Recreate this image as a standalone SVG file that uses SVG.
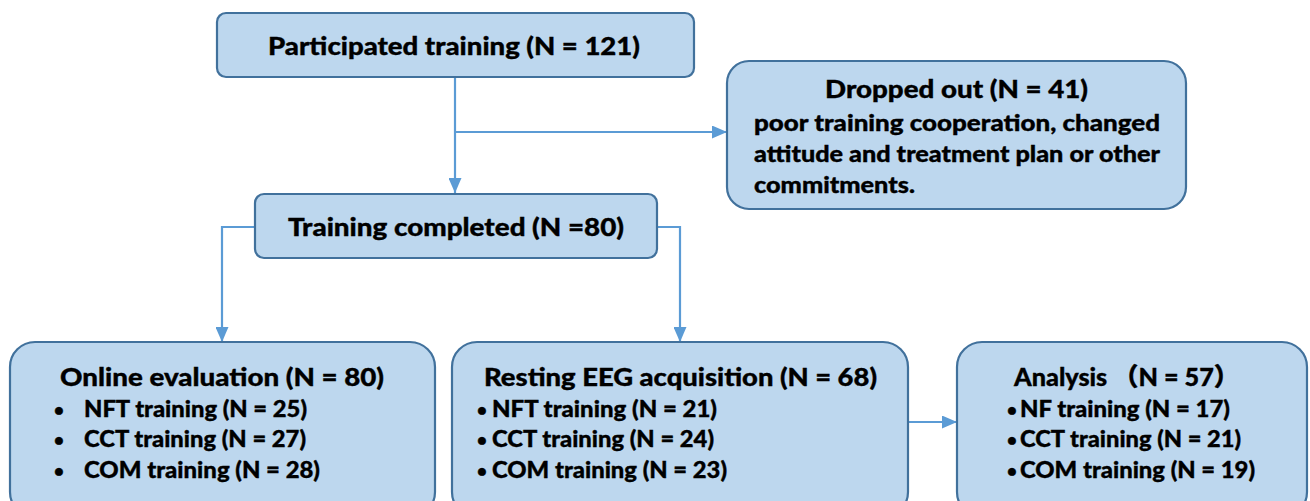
<svg xmlns="http://www.w3.org/2000/svg" width="1310" height="501" viewBox="0 0 1310 501">
<defs>
<style>
.box{fill:#BDD7EE;stroke:#41719C;stroke-width:2.2}
.t{font-family:Lato,"Open Sans","Liberation Sans","Noto Sans CJK SC",sans-serif;font-weight:900;fill:#000;stroke:#000;stroke-width:0.35}
.h{font-size:25px}
.s{font-size:22px}
.b{font-size:17px}
.c{stroke:#5B9BD5;stroke-width:2.2;fill:none}
</style>
<marker id="ah" viewBox="0 0 15 13" refX="15" refY="6.5" markerWidth="15" markerHeight="13" markerUnits="userSpaceOnUse" orient="auto">
<path d="M0,0 L15,6.5 L0,13 Z" fill="#5B9BD5"/>
</marker>
</defs>
<rect width="1310" height="501" fill="#fff"/>
<g id="connectors">
<path class="c" d="M455,77 V193" marker-end="url(#ah)"/>
<path class="c" d="M455,132 H727" marker-end="url(#ah)"/>
<path class="c" d="M255,227 H222 V342" marker-end="url(#ah)"/>
<path class="c" d="M657,227 H680 V342" marker-end="url(#ah)"/>
<path class="c" d="M909,422 H957" marker-end="url(#ah)"/>
</g>
<g id="participated">
<rect class="box" x="217" y="13" width="477" height="64" rx="9"/>
<text class="t h" x="268" y="55" textLength="372" lengthAdjust="spacingAndGlyphs">Participated training (N = 121)</text>
</g>
<g id="dropped">
<rect class="box" x="727" y="61" width="459" height="148" rx="22"/>
<text class="t h" x="825" y="98" textLength="263" lengthAdjust="spacingAndGlyphs">Dropped out (N = 41)</text>
<text class="t s" x="754" y="131" textLength="406" lengthAdjust="spacingAndGlyphs">poor training cooperation, changed</text>
<text class="t s" x="754" y="162" textLength="406" lengthAdjust="spacingAndGlyphs">attitude and treatment plan or other</text>
<text class="t s" x="754" y="193" textLength="161" lengthAdjust="spacingAndGlyphs">commitments.</text>
</g>
<g id="completed">
<rect class="box" x="255" y="194" width="402" height="64" rx="9"/>
<text class="t h" x="288" y="236" textLength="336" lengthAdjust="spacingAndGlyphs">Training completed (N =80)</text>
</g>
<g id="online">
<rect class="box" x="10" y="342" width="425" height="175" rx="25"/>
<text class="t h" x="60" y="386" textLength="324" lengthAdjust="spacingAndGlyphs">Online evaluation (N = 80)</text>
<text class="t b" x="54" y="416">•</text>
<text class="t s" x="84" y="417" textLength="223" lengthAdjust="spacingAndGlyphs">NFT training (N = 25)</text>
<text class="t b" x="54" y="446">•</text>
<text class="t s" x="84" y="447" textLength="222" lengthAdjust="spacingAndGlyphs">CCT training (N = 27)</text>
<text class="t b" x="54" y="477">•</text>
<text class="t s" x="84" y="478" textLength="236" lengthAdjust="spacingAndGlyphs">COM training (N = 28)</text>
</g>
<g id="resting">
<rect class="box" x="452" y="342" width="456" height="175" rx="25"/>
<text class="t h" x="484" y="386" textLength="393" lengthAdjust="spacingAndGlyphs">Resting EEG acquisition (N = 68)</text>
<text class="t b" x="477" y="416">•</text>
<text class="t s" x="492" y="417" textLength="225" lengthAdjust="spacingAndGlyphs">NFT training (N = 21)</text>
<text class="t b" x="477" y="446">•</text>
<text class="t s" x="492" y="447" textLength="222" lengthAdjust="spacingAndGlyphs">CCT training (N = 24)</text>
<text class="t b" x="477" y="477">•</text>
<text class="t s" x="492" y="478" textLength="235" lengthAdjust="spacingAndGlyphs">COM training (N = 23)</text>
</g>
<g id="analysis">
<rect class="box" x="957" y="342" width="350" height="175" rx="25"/>
<text class="t h" x="1014" y="386" textLength="225" lengthAdjust="spacingAndGlyphs">Analysis （N = 57）</text>
<text class="t b" x="1007" y="416">•</text>
<text class="t s" x="1020" y="417" textLength="210" lengthAdjust="spacingAndGlyphs">NF training (N = 17)</text>
<text class="t b" x="1007" y="446">•</text>
<text class="t s" x="1020" y="447" textLength="221" lengthAdjust="spacingAndGlyphs">CCT training (N = 21)</text>
<text class="t b" x="1007" y="477">•</text>
<text class="t s" x="1020" y="478" textLength="235" lengthAdjust="spacingAndGlyphs">COM training (N = 19)</text>
</g>
</svg>
